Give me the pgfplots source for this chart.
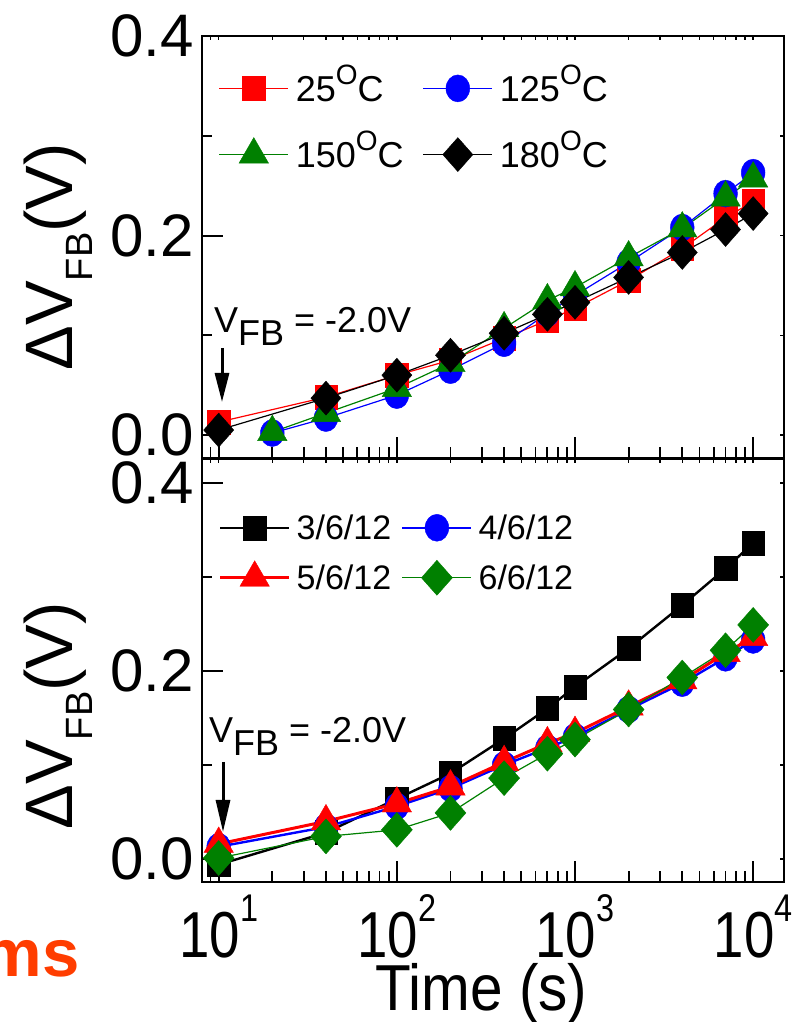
\documentclass[border=0pt]{standalone}
\usepackage{fontspec}
\setmainfont{Liberation Sans}
\usepackage{pgfplots}
\pgfplotsset{compat=1.18}
\usetikzlibrary{arrows.meta}
\definecolor{dgreen}{RGB}{0,128,0}
\definecolor{msorange}{RGB}{255,61,0}
\newcommand\tl[1]{\scalebox{0.84}[1]{10\raisebox{35.6pt}{\fontsize{38.6}{38.6}\selectfont #1}}}
\newcommand\dg[1]{#1\raisebox{17pt}{\fontsize{28}{28}\selectfont O}C}

\begin{document}
\begin{tikzpicture}
\path[use as bounding box] (0pt,0pt) rectangle (796pt,1022pt);

% ---------------- top panel ----------------
\begin{axis}[
  scale only axis, width=582pt, height=422pt, at={(202pt,564pt)}, anchor=south west,
  xmode=log, xmin=8.06, xmax=14900, ymin=-0.023, ymax=0.4,
  xtick={10,100,1000,10000},
  minor xtick={8,9,20,30,40,50,60,70,80,90,200,300,400,500,600,700,800,900,2000,3000,4000,5000,6000,7000,8000,9000},
  ytick={0,0.2,0.4}, minor ytick={0.1,0.3},
  axis line style={line width=2.5pt},
  tick align=inside, tick pos=left,
  major tick length=21pt, minor tick length=10.5pt,
  every major tick/.append style={black, line width=2pt},
  every minor tick/.append style={black, line width=1.8pt},
  clip=false,
  xticklabels={},
  yticklabels={0.0,0.2,0.4},
  yticklabel style={anchor=east, inner sep=0pt, xshift=-8pt, font=\fontsize{60}{60}\selectfont},
  legend cell align=left, legend columns=2,
  legend image code/.code={\draw[mark repeat=2,mark phase=2,#1] plot coordinates {(0pt,0pt)(34.5pt,0pt)(69pt,0pt)};},
  legend style={at={(axis cs:10,0.361)}, anchor=north west, draw=none, fill=none,
    inner sep=0pt, outer sep=0pt, row sep=35.7pt,
    nodes={inner sep=0pt, text height=25.8pt, text depth=0pt, font=\fontsize{36}{36}\selectfont},
    /tikz/every odd column/.append style={column sep=7pt},
    /tikz/every even column/.append style={column sep=19pt}},
]
\addplot[red, line width=1.2pt, mark=square*, mark size=12pt, mark options={solid, line width=0.4pt, xscale=0.93}]
 coordinates {(10,0.013)(40,0.038)(100,0.060)(200,0.075)(400,0.097)(700,0.115)(1000,0.127)(2000,0.155)(4000,0.187)(7000,0.218)(10000,0.234)};
\addlegendentry{\dg{25}}
\addplot[blue, line width=1.2pt, mark=*, mark size=13.5pt, mark options={solid, line width=0.4pt, xscale=0.88}]
 coordinates {(20,0.002)(40,0.017)(100,0.040)(200,0.065)(400,0.092)(700,0.122)(1000,0.140)(2000,0.173)(4000,0.208)(7000,0.242)(10000,0.263)};
\addlegendentry{\dg{125}}
\addplot[dgreen, line width=1.2pt, mark=triangle*, mark size=17pt, mark options={solid, line width=0.4pt}]
 coordinates {(20,0.003)(40,0.022)(100,0.047)(200,0.072)(400,0.107)(700,0.135)(1000,0.148)(2000,0.178)(4000,0.207)(7000,0.238)(10000,0.257)};
\addlegendentry{\dg{150}}
\addplot[black, line width=1.2pt, mark=diamond*, mark size=17pt, mark options={solid, line width=0.4pt, xscale=1.18}]
 coordinates {(10,0.005)(40,0.037)(100,0.060)(200,0.080)(400,0.102)(700,0.121)(1000,0.133)(2000,0.158)(4000,0.183)(7000,0.206)(10000,0.222)};
\addlegendentry{\dg{180}}
\end{axis}
\begin{axis}[
  scale only axis, width=582pt, height=422pt, at={(202pt,564pt)}, anchor=south west,
  xmode=log, xmin=8.06, xmax=14900, ymin=-0.023, ymax=0.4,
  xtick={10,100,1000,10000},
  minor xtick={8,9,20,30,40,50,60,70,80,90,200,300,400,500,600,700,800,900,2000,3000,4000,5000,6000,7000,8000,9000},
  ytick={0,0.2,0.4}, minor ytick={0.1,0.3},
  axis line style={line width=2.5pt},
  tick align=inside, tick pos=right,
  major tick length=4pt, minor tick length=4pt,
  every major tick/.append style={black, line width=1.5pt},
  every minor tick/.append style={black, line width=1.5pt},
  xticklabels={}, yticklabels={},
]
\end{axis}

% ---------------- bottom panel ----------------
\begin{axis}[
  scale only axis, width=582pt, height=423pt, at={(202pt,140pt)}, anchor=south west,
  xmode=log, xmin=8.06, xmax=14900, ymin=-0.0245, ymax=0.4255,
  xtick={10,100,1000,10000},
  minor xtick={8,9,20,30,40,50,60,70,80,90,200,300,400,500,600,700,800,900,2000,3000,4000,5000,6000,7000,8000,9000},
  ytick={0,0.2,0.4}, minor ytick={0.1,0.3},
  axis line style={line width=2.5pt},
  tick align=inside, tick pos=left,
  major tick length=21pt, minor tick length=10.5pt,
  every major tick/.append style={black, line width=2pt},
  every minor tick/.append style={black, line width=1.8pt},
  clip=false,
  xticklabels={\tl{1},\tl{2},\tl{3},\tl{4}},
  xticklabel style={anchor=base, inner sep=0pt, yshift=-75pt, font=\fontsize{65}{65}\selectfont},
  yticklabels={0.0,0.2,0.4},
  yticklabel style={anchor=east, inner sep=0pt, xshift=-8pt, font=\fontsize{60}{60}\selectfont},
  legend cell align=left, legend columns=2,
  legend image code/.code={\draw[mark repeat=2,mark phase=2,#1] plot coordinates {(0pt,0pt)(34.5pt,0pt)(69pt,0pt)};},
  legend style={at={(axis cs:10,0.3667)}, anchor=north west, draw=none, fill=none,
    inner sep=0pt, outer sep=0pt, row sep=19pt,
    nodes={inner sep=0pt, text height=24.3pt, text depth=0pt, font=\fontsize{34}{34}\selectfont},
    /tikz/every odd column/.append style={column sep=6pt},
    /tikz/every even column/.append style={column sep=10pt}},
]
\addplot[black, line width=2.4pt, mark=square*, mark size=12pt, mark options={solid, line width=0.4pt, xscale=0.93}]
 coordinates {(10,-0.006)(40,0.028)(100,0.064)(200,0.091)(400,0.128)(700,0.160)(1000,0.183)(2000,0.224)(4000,0.270)(7000,0.309)(10000,0.336)};
\addlegendentry{3/6/12}
\addplot[blue, line width=2.4pt, mark=*, mark size=13.5pt, mark options={solid, line width=0.4pt, xscale=0.88}]
 coordinates {(10,0.013)(40,0.034)(100,0.056)(200,0.075)(400,0.100)(700,0.118)(1000,0.130)(2000,0.159)(4000,0.187)(7000,0.214)(10000,0.233)};
\addlegendentry{4/6/12}
\addplot[red, line width=3pt, mark=triangle*, mark size=17pt, mark options={solid, line width=0.4pt}]
 coordinates {(10,0.016)(40,0.040)(100,0.059)(200,0.077)(400,0.103)(700,0.123)(1000,0.134)(2000,0.162)(4000,0.190)(7000,0.219)(10000,0.236)};
\addlegendentry{5/6/12}
\addplot[dgreen, line width=1.2pt, mark=diamond*, mark size=17.5pt, mark options={solid, line width=0.4pt, xscale=1.18}]
 coordinates {(10,0.001)(40,0.024)(100,0.031)(200,0.049)(400,0.086)(700,0.112)(1000,0.127)(2000,0.159)(4000,0.193)(7000,0.222)(10000,0.249)};
\addlegendentry{6/6/12}
\end{axis}
\begin{axis}[
  scale only axis, width=582pt, height=423pt, at={(202pt,140pt)}, anchor=south west,
  xmode=log, xmin=8.06, xmax=14900, ymin=-0.0245, ymax=0.4255,
  xtick={10,100,1000,10000},
  minor xtick={8,9,20,30,40,50,60,70,80,90,200,300,400,500,600,700,800,900,2000,3000,4000,5000,6000,7000,8000,9000},
  ytick={0,0.2,0.4}, minor ytick={0.1,0.3},
  axis line style={line width=2.5pt},
  tick align=inside, tick pos=right,
  major tick length=4pt, minor tick length=4pt,
  every major tick/.append style={black, line width=1.5pt},
  every minor tick/.append style={black, line width=1.5pt},
  xticklabels={}, yticklabels={},
]
\end{axis}

% ---------------- labels and annotations ----------------
\node[rotate=90, anchor=base, inner sep=0pt, font=\fontsize{67}{67}\selectfont] at (72pt,765pt)
  {ΔV\raisebox{-20pt}{\fontsize{38}{38}\selectfont FB}(V)};
\node[rotate=90, anchor=base, inner sep=0pt, font=\fontsize{67}{67}\selectfont] at (72pt,306pt)
  {ΔV\raisebox{-20pt}{\fontsize{38}{38}\selectfont FB}(V)};

\node[anchor=base west, inner sep=0pt, font=\fontsize{36}{36}\selectfont] at (214pt,689pt)
  {V\raisebox{-12.5pt}{FB} = -2.0V};
\draw[line width=3pt, -{Triangle[length=29pt,width=14pt]}] (222pt,674pt) -- (222pt,620pt);

\node[anchor=base west, inner sep=0pt, font=\fontsize{36}{36}\selectfont] at (209pt,279pt)
  {V\raisebox{-12.5pt}{FB} = -2.0V};
\draw[line width=3pt, -{Triangle[length=32pt,width=14pt]}] (223pt,260pt) -- (223pt,190pt);

\node[anchor=base west, inner sep=0pt, font=\fontsize{65}{65}\selectfont] at (375pt,12pt) {\scalebox{0.9}[1]{Time (s)}};
\node[anchor=base east, inner sep=0pt, text=msorange, font=\bfseries\fontsize{67}{67}\selectfont] at (80pt,45pt) {ms};
\end{tikzpicture}
\end{document}
